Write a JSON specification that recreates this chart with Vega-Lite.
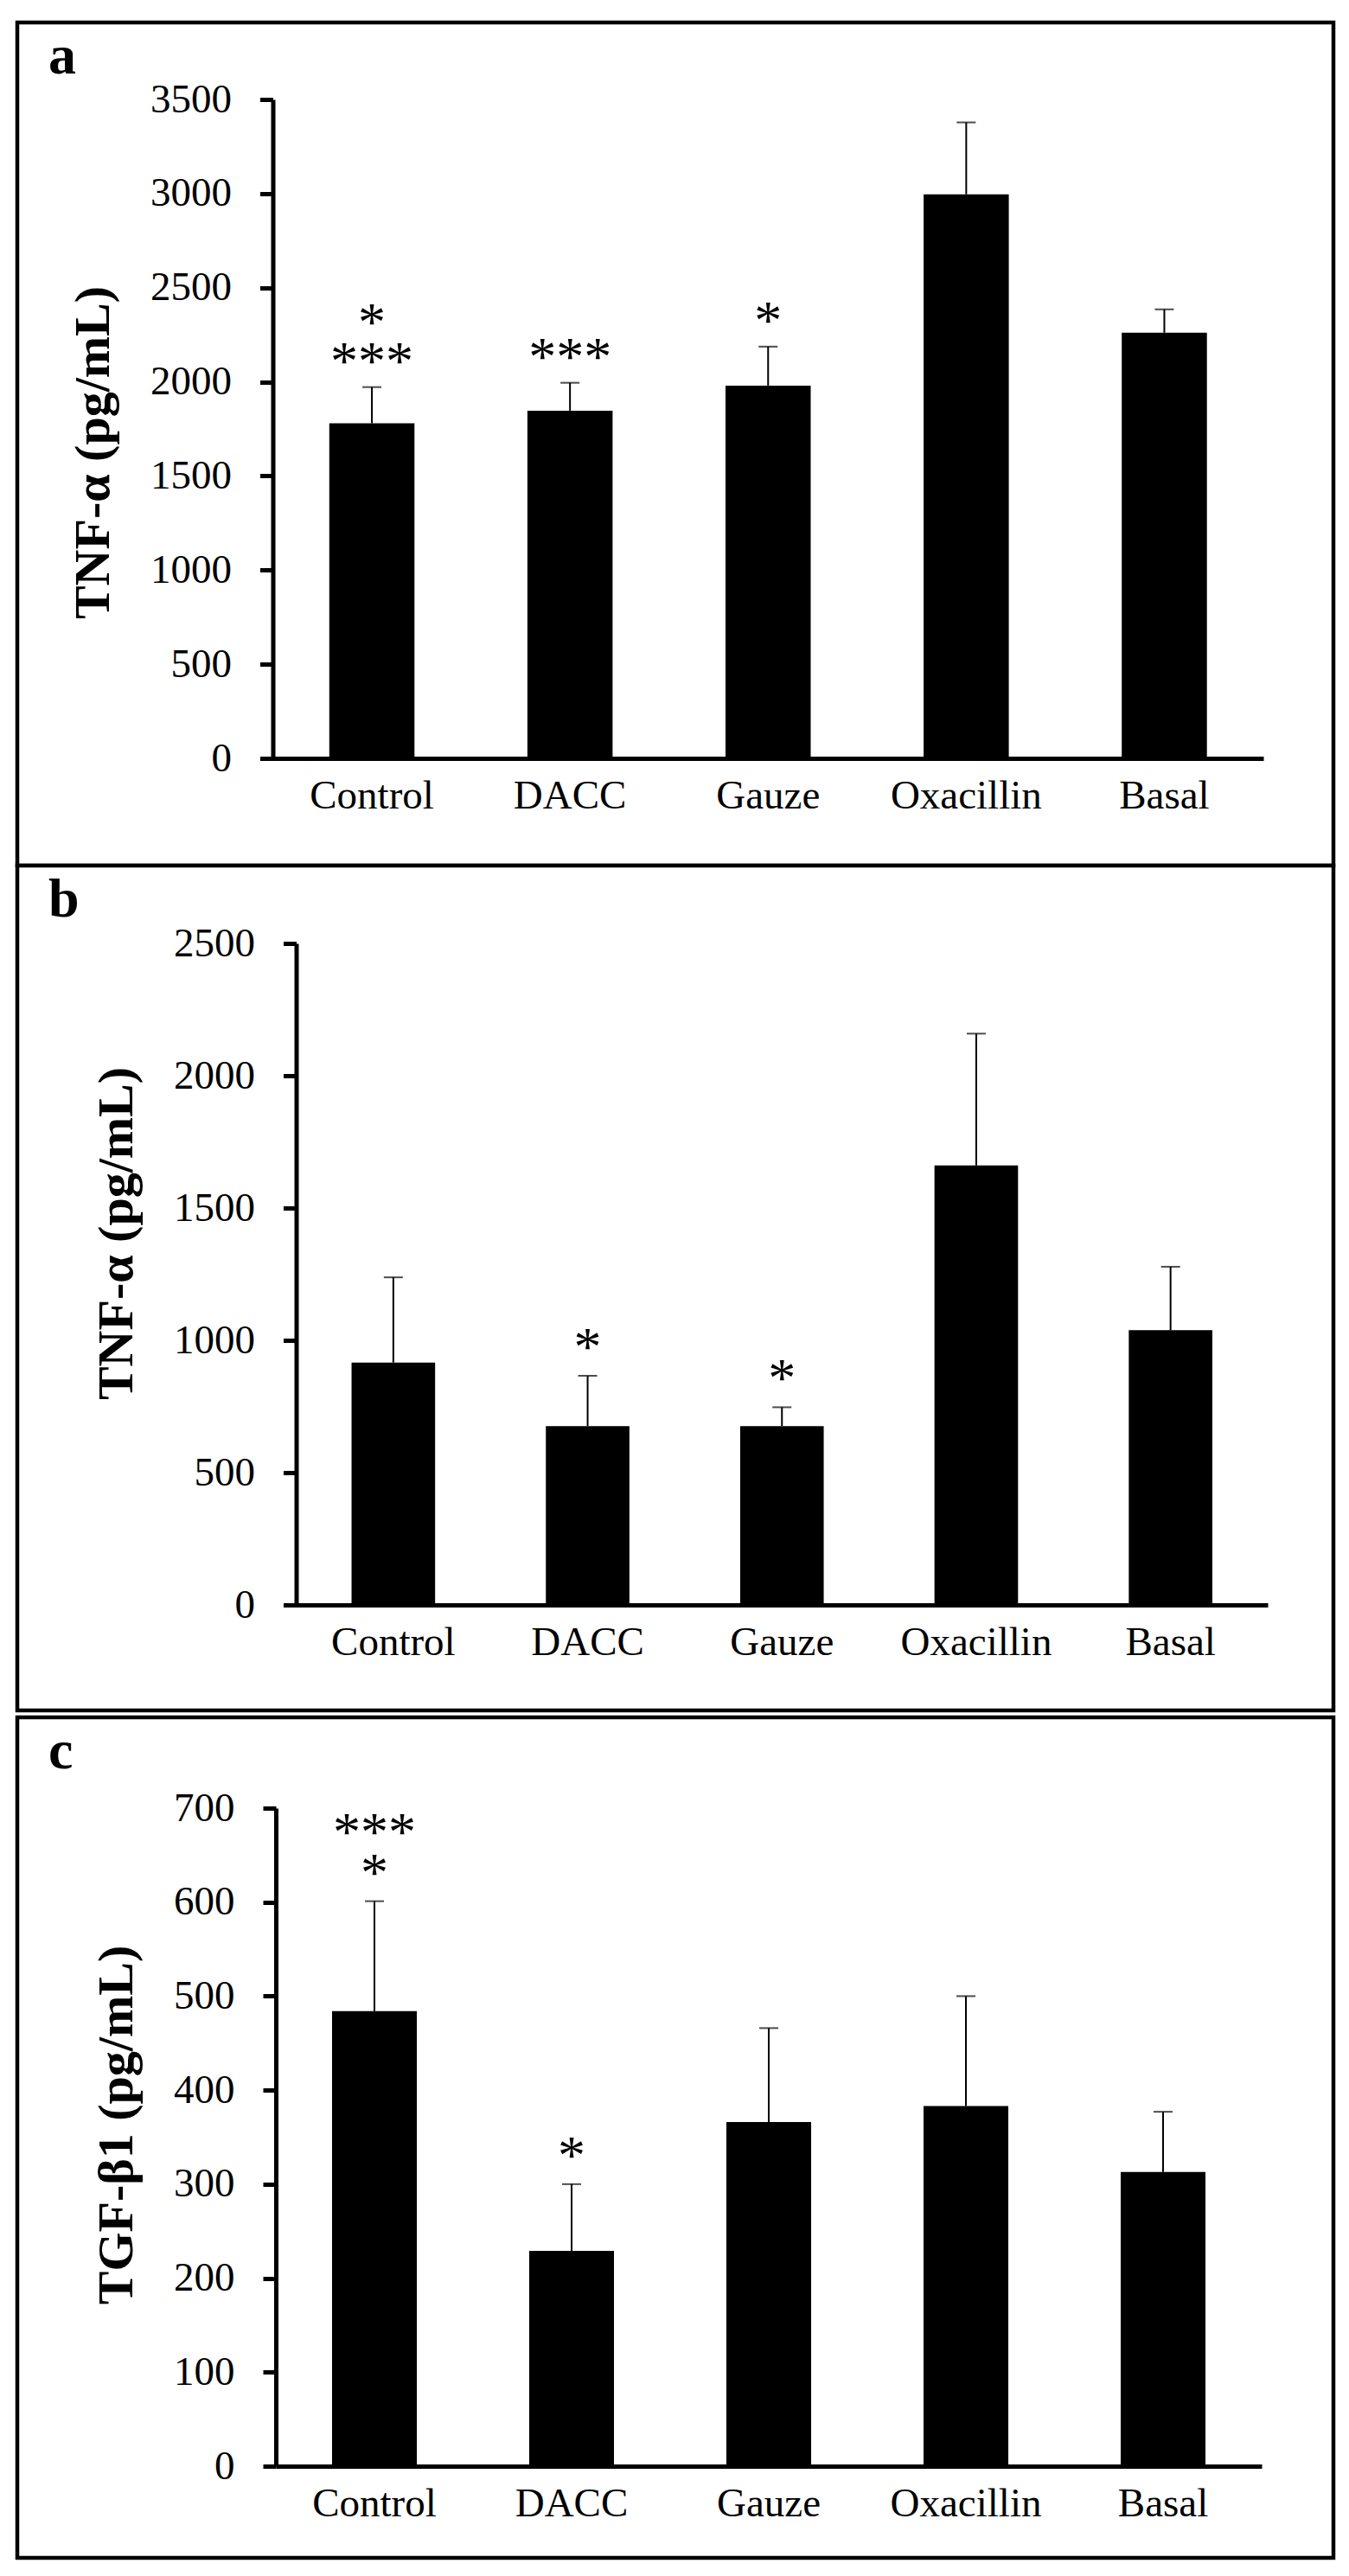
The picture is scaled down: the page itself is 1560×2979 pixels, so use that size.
{
  "$schema": "https://vega.github.io/schema/vega-lite/v6.json",
  "padding": {"left": 17, "top": 23, "right": 17, "bottom": 21},
  "background": "white",
  "config": {
    "view": {"stroke": "black", "strokeWidth": 4.5, "fill": "white"},
    "axis": {
      "labelFont": "Liberation Serif", "labelFontSize": 47, "labelColor": "black", "labelFontWeight": "normal",
      "titleFont": "Liberation Serif", "titleFontSize": 58, "titleFontWeight": "bold", "titleColor": "black",
      "domainColor": "black", "domainWidth": 5, "tickColor": "black", "tickWidth": 5, "grid": false
    },
    "title": {"font": "Liberation Serif", "fontSize": 64, "fontWeight": "bold", "color": "black", "anchor": "start", "frame": "group", "baseline": "alphabetic", "offset": 0}
  },
  "datasets": {
    "a": [
      {"group": "Control", "mean": 1780, "err": 1972, "sig": "***", "sig2": "*"},
      {"group": "DACC", "mean": 1847, "err": 1995, "sig": "***", "sig2": ""},
      {"group": "Gauze", "mean": 1980, "err": 2187, "sig": "*", "sig2": ""},
      {"group": "Oxacillin", "mean": 2996, "err": 3378, "sig": "", "sig2": ""},
      {"group": "Basal", "mean": 2261, "err": 2385, "sig": "", "sig2": ""}
    ],
    "b": [
      {"group": "Control", "mean": 916, "err": 1238, "sig": "", "sig2": ""},
      {"group": "DACC", "mean": 676, "err": 866, "sig": "*", "sig2": ""},
      {"group": "Gauze", "mean": 676, "err": 747, "sig": "*", "sig2": ""},
      {"group": "Oxacillin", "mean": 1661, "err": 2159, "sig": "", "sig2": ""},
      {"group": "Basal", "mean": 1038, "err": 1278, "sig": "", "sig2": ""}
    ],
    "c": [
      {"group": "Control", "mean": 484, "err": 601, "sig": "*", "sig2": "***"},
      {"group": "DACC", "mean": 229, "err": 300, "sig": "*", "sig2": ""},
      {"group": "Gauze", "mean": 366, "err": 466, "sig": "", "sig2": ""},
      {"group": "Oxacillin", "mean": 383, "err": 500, "sig": "", "sig2": ""},
      {"group": "Basal", "mean": 313, "err": 377, "sig": "", "sig2": ""}
    ]
  },
  "spacing": 2,
  "vconcat": [
    {
      "spacing": 0,
      "bounds": "flush",
      "vconcat": [
        {
          "width": 1522, "height": 975,
          "data": {"name": "a"},
          "title": {"text": "a", "dx": 36, "dy": 76},
          "encoding": {
            "x": {"field": "group", "type": "nominal", "sort": null,
              "scale": {"range": [295.5, 1441], "paddingInner": 0.57, "paddingOuter": 0.285},
              "axis": {"title": null, "orient": "bottom", "offset": -124, "ticks": false, "labelPadding": 20, "labelAngle": 0}}
          },
          "layer": [
            {"mark": {"type": "bar", "color": "black"},
             "encoding": {"y": {"field": "mean", "type": "quantitative", "title": "TNF-α (pg/mL)",
               "scale": {"domain": [0, 3500], "range": [851, 89], "nice": false},
               "axis": {"values": [0, 500, 1000, 1500, 2000, 2500, 3000, 3500], "format": "d", "offset": -295.5, "tickSize": 15, "labelPadding": 33, "titlePadding": 36, "titleY": 497}}}},
            {"mark": {"type": "rule", "color": "black", "strokeWidth": 2},
             "encoding": {"y": {"field": "mean", "type": "quantitative", "title": "TNF-α (pg/mL)"}, "y2": {"field": "err"}}},
            {"mark": {"type": "tick", "color": "black", "size": 22, "thickness": 2},
             "encoding": {"y": {"field": "err", "type": "quantitative", "title": "TNF-α (pg/mL)"}}},
            {"mark": {"type": "text", "font": "Liberation Serif", "fontSize": 64, "color": "black", "baseline": "bottom", "dy": 4},
             "encoding": {"y": {"field": "err", "type": "quantitative", "title": "TNF-α (pg/mL)"}, "text": {"field": "sig"}}},
            {"mark": {"type": "text", "font": "Liberation Serif", "fontSize": 64, "color": "black", "baseline": "bottom", "dy": -41},
             "encoding": {"y": {"field": "err", "type": "quantitative", "title": "TNF-α (pg/mL)"}, "text": {"field": "sig2"}}}
          ]
        },
        {
          "width": 1522, "height": 977,
          "data": {"name": "b"},
          "title": {"text": "b", "dx": 36, "dy": 76},
          "encoding": {
            "x": {"field": "group", "type": "nominal", "sort": null,
              "scale": {"range": [322.5, 1446], "paddingInner": 0.57, "paddingOuter": 0.285},
              "axis": {"title": null, "orient": "bottom", "offset": -122, "ticks": false, "labelPadding": 20, "labelAngle": 0}}
          },
          "layer": [
            {"mark": {"type": "bar", "color": "black"},
             "encoding": {"y": {"field": "mean", "type": "quantitative", "title": "TNF-α (pg/mL)",
               "scale": {"domain": [0, 2500], "range": [855, 90], "nice": false},
               "axis": {"values": [0, 500, 1000, 1500, 2000, 2500], "format": "d", "offset": -322.5, "tickSize": 15, "labelPadding": 33, "titlePadding": 36, "titleY": 425}}}},
            {"mark": {"type": "rule", "color": "black", "strokeWidth": 2},
             "encoding": {"y": {"field": "mean", "type": "quantitative", "title": "TNF-α (pg/mL)"}, "y2": {"field": "err"}}},
            {"mark": {"type": "tick", "color": "black", "size": 22, "thickness": 2},
             "encoding": {"y": {"field": "err", "type": "quantitative", "title": "TNF-α (pg/mL)"}}},
            {"mark": {"type": "text", "font": "Liberation Serif", "fontSize": 64, "color": "black", "baseline": "bottom", "dy": 1},
             "encoding": {"y": {"field": "err", "type": "quantitative", "title": "TNF-α (pg/mL)"}, "text": {"field": "sig"}}}
          ]
        }
      ]
    },
    {
      "width": 1522, "height": 972,
      "data": {"name": "c"},
      "title": {"text": "c", "dx": 36, "dy": 76},
      "encoding": {
        "x": {"field": "group", "type": "nominal", "sort": null,
          "scale": {"range": [299, 1439], "paddingInner": 0.57, "paddingOuter": 0.285},
          "axis": {"title": null, "orient": "bottom", "offset": -106, "ticks": false, "labelPadding": 20, "labelAngle": 0}}
      },
      "layer": [
        {"mark": {"type": "bar", "color": "black"},
         "encoding": {"y": {"field": "mean", "type": "quantitative", "title": "TGF-β1 (pg/mL)",
           "scale": {"domain": [0, 700], "range": [866, 105], "nice": false},
           "axis": {"values": [0, 100, 200, 300, 400, 500, 600, 700], "format": "d", "offset": -299, "tickSize": 15, "labelPadding": 33, "titlePadding": 36, "titleY": 471}}}},
        {"mark": {"type": "rule", "color": "black", "strokeWidth": 2},
         "encoding": {"y": {"field": "mean", "type": "quantitative", "title": "TGF-β1 (pg/mL)"}, "y2": {"field": "err"}}},
        {"mark": {"type": "tick", "color": "black", "size": 22, "thickness": 2},
         "encoding": {"y": {"field": "err", "type": "quantitative", "title": "TGF-β1 (pg/mL)"}}},
        {"mark": {"type": "text", "font": "Liberation Serif", "fontSize": 64, "color": "black", "baseline": "bottom", "dy": 1},
         "encoding": {"y": {"field": "err", "type": "quantitative", "title": "TGF-β1 (pg/mL)"}, "text": {"field": "sig"}}},
        {"mark": {"type": "text", "font": "Liberation Serif", "fontSize": 64, "color": "black", "baseline": "bottom", "dy": -46},
         "encoding": {"y": {"field": "err", "type": "quantitative", "title": "TGF-β1 (pg/mL)"}, "text": {"field": "sig2"}}}
      ]
    }
  ]
}
